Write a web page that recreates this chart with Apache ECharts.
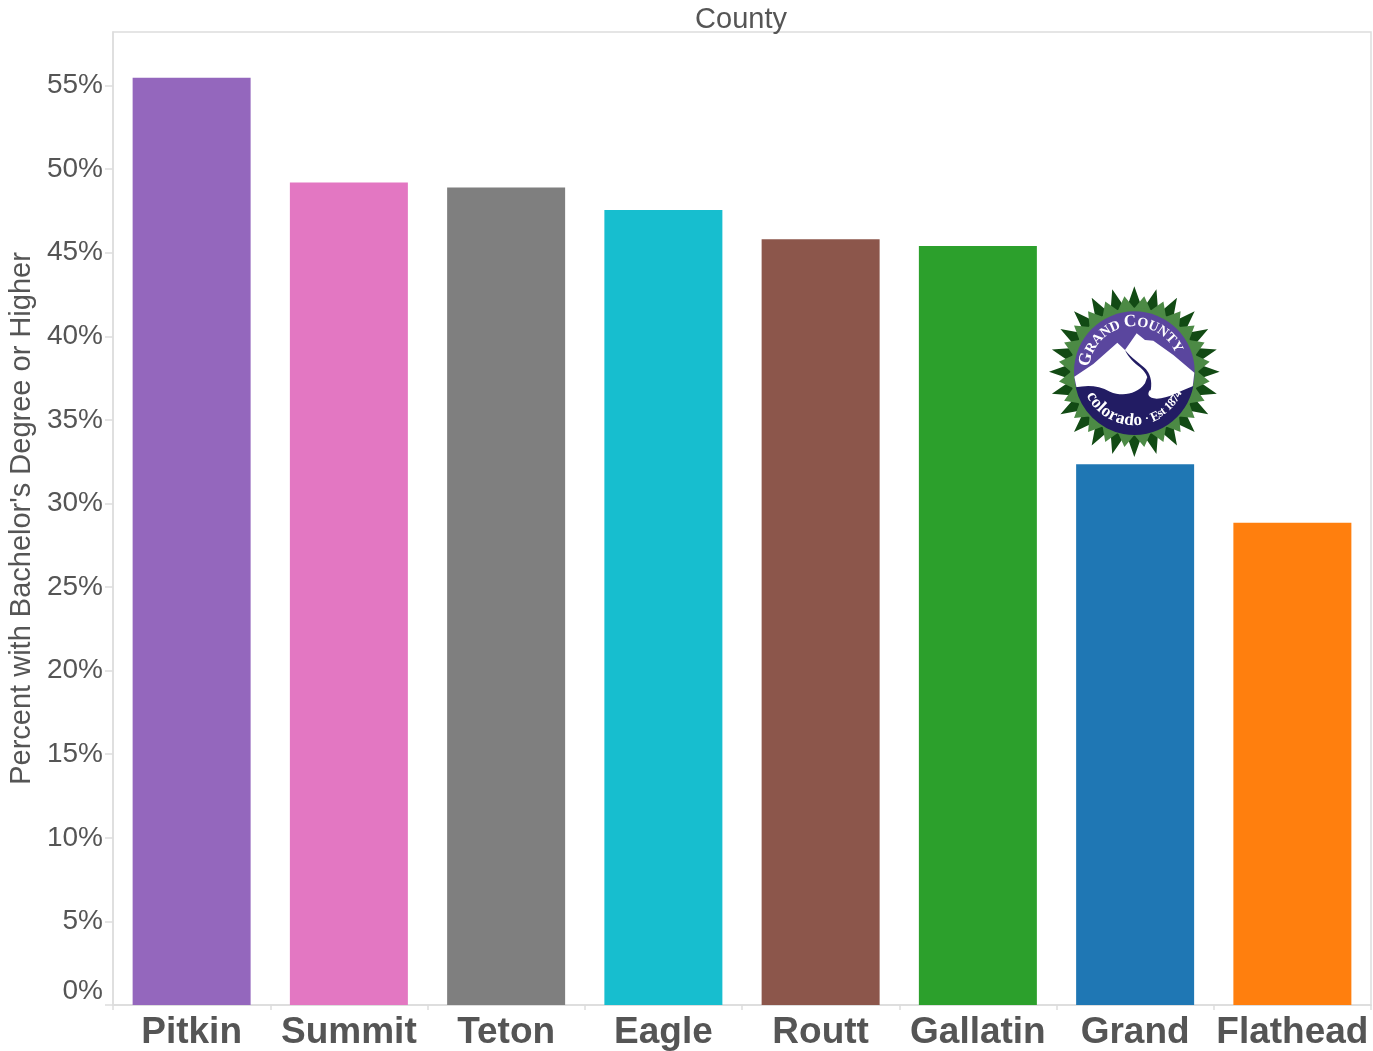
<!DOCTYPE html>
<html>
<head>
<meta charset="utf-8">
<style>
  html, body { margin: 0; padding: 0; background: #fff; }
  #main { width: 1373px; height: 1051px; }
</style>
<script src="https://cdn.jsdelivr.net/npm/echarts@6/dist/echarts.min.js"></script>
</head>
<body>
<div id="main"></div>
<script>
var counties = ['Pitkin', 'Summit', 'Teton', 'Eagle', 'Routt', 'Gallatin', 'Grand', 'Flathead'];
var percents = [55.47, 49.2, 48.9, 47.55, 45.8, 45.4, 32.35, 28.85];
var barColors = ['#9467bd', '#e377c2', '#7f7f7f', '#17becf', '#8c564b', '#2ca02c', '#1f77b4', '#ff7f0e'];
var yTicks = [0, 5, 10, 15, 20, 25, 30, 35, 40, 45, 50, 55];

// logo is drawn in the units of a 3x crop, the group scales it back down
var cx = 313, cy = 305;

// the graphic component has no plain path type, so register the curved bits
echarts.graphic.registerShape('logoSnow', echarts.graphic.extendPath(
    'M133,320 L190,282 L262,218 L285,240 L320,190 L345,210 L370,212 L430,255 L493,308 L488,350 L400,400 L220,400 L140,354 Z'));
echarts.graphic.registerShape('logoWater', echarts.graphic.extendPath(
    'M137,352 C170,345 205,345 240,365 C275,380 320,375 345,340 L352,320 C358,335 362,345 360,360 C350,372 355,385 380,386 C415,386 450,362 490,348 A180,180 0 0 1 137,352 Z'));
echarts.graphic.registerShape('logoRiver', echarts.graphic.extendPath(
    'M285,240 C305,265 330,280 348,298 C358,310 368,330 362,362 L352,345 C358,322 345,305 330,292 C312,278 295,262 285,240 Z'));

function star(n, rBase, rTip, offset, fill) {
    var pts = [];
    for (var i = 0; i < n; i++) {
        var a = (i + offset) / n * Math.PI * 2;
        var b = (i + offset + 0.5) / n * Math.PI * 2;
        pts.push([cx + rTip * Math.sin(a), cy - rTip * Math.cos(a)]);
        pts.push([cx + rBase * Math.sin(b), cy - rBase * Math.cos(b)]);
    }
    return {type: 'polygon', shape: {points: pts}, style: {fill: fill}};
}

var measure = document.createElement('canvas').getContext('2d');

// letters spread between two angles (degrees from the top, or from the bottom when lower is true)
function arcText(chars, r, start, end, lower) {
    var widths = chars.map(function (c) {
        measure.font = 'bold ' + c.size + 'px "Liberation Serif"';
        return measure.measureText(c.ch).width;
    });
    var total = widths.reduce(function (s, w) { return s + w; }, 0);
    var pos = 0;
    return chars.map(function (c, i) {
        var t = (start + (end - start) * (pos + widths[i] / 2) / total) * Math.PI / 180;
        pos += widths[i];
        var rr = r + (c.shift || 0);
        return {
            type: 'text',
            x: cx + rr * Math.sin(t),
            y: lower ? cy + rr * Math.cos(t) : cy - rr * Math.cos(t),
            rotation: lower ? t : -t,
            style: {
                text: c.ch,
                fill: '#fff',
                font: 'bold ' + c.size + 'px "Liberation Serif"',
                align: 'center',
                verticalAlign: 'middle'
            }
        };
    });
}

function letters(str, size, bigs, bigSize) {
    return str.split('').map(function (ch, i) {
        var big = bigs.indexOf(i) >= 0;
        return {ch: ch, size: big ? bigSize : size, shift: big ? 0 : -3};
    });
}

var logo = [
    star(24, 188, 256, 0, '#124a14'),
    star(24, 190, 228, 0.5, '#4c8a45'),
    {type: 'circle', shape: {cx: cx, cy: cy, r: 192}, style: {fill: '#4c8a45'}},
    {type: 'circle', shape: {cx: cx, cy: cy, r: 181}, style: {fill: '#5a469e'}},
    {type: 'logoSnow', style: {fill: '#fff'}},
    {type: 'logoWater', style: {fill: '#221c63'}},
    {type: 'logoRiver', style: {fill: '#221c63'}}
]
    .concat(arcText(letters('GRAND COUNTY', 42, [0, 6], 52), 150, -84, 66, false))
    .concat(arcText(letters('colorado', 52, [], 52), 150, -64, 9, true))
    .concat(arcText(letters('\u00b7 Est 1874', 36, [2], 40), 150, 13, 66, true));

var chart = echarts.init(document.getElementById('main'));
var option = {
    animation: false,
    textStyle: {fontFamily: '"Liberation Sans", Arial, sans-serif'},
    color: barColors,
    title: {
        text: 'County',
        left: 736,
        top: 0,
        textAlign: 'center',
        textStyle: {color: '#555', fontSize: 29, fontWeight: 'normal', fontFamily: '"Liberation Sans"'}
    },
    grid: {
        left: 113, right: 2, top: 32, bottom: 46,
        outerBoundsMode: 'none',
        show: true, borderColor: '#ddd', borderWidth: 1.5
    },
    xAxis: {
        type: 'category',
        data: counties,
        axisLine: {lineStyle: {color: '#ddd', width: 1.5}},
        axisTick: {show: true, length: 5, alignWithLabel: false, lineStyle: {color: '#ddd', width: 1.5}},
        axisLabel: {interval: 0, margin: 9, color: '#555', fontSize: 37, fontWeight: 'bold', fontFamily: '"Liberation Sans"'}
    },
    yAxis: {
        type: 'value',
        min: 0,
        max: 58.2,
        name: "Percent with Bachelor's Degree or Higher",
        nameLocation: 'middle',
        nameGap: 72,
        nameTextStyle: {color: '#555', fontSize: 29, fontFamily: '"Liberation Sans"'},
        splitLine: {show: false},
        axisLine: {show: true, lineStyle: {color: '#ddd', width: 1.5}},
        axisTick: {show: true, length: 8, customValues: yTicks, lineStyle: {color: '#ddd', width: 1.5}},
        axisLabel: {
            customValues: yTicks,
            formatter: '{value}%',
            margin: 10,
            color: '#555',
            fontSize: 28,
            fontFamily: '"Liberation Sans"',
            verticalAlignMinLabel: 'bottom'
        }
    },
    series: [{
        type: 'bar',
        colorBy: 'data',
        barWidth: 118,
        data: percents
    }],
    graphic: [{
        type: 'group',
        x: 1030,
        y: 270,
        scaleX: 1 / 3,
        scaleY: 1 / 3,
        z: 100,
        children: logo
    }]
};
chart.setOption(option);
</script>
</body>
</html>
